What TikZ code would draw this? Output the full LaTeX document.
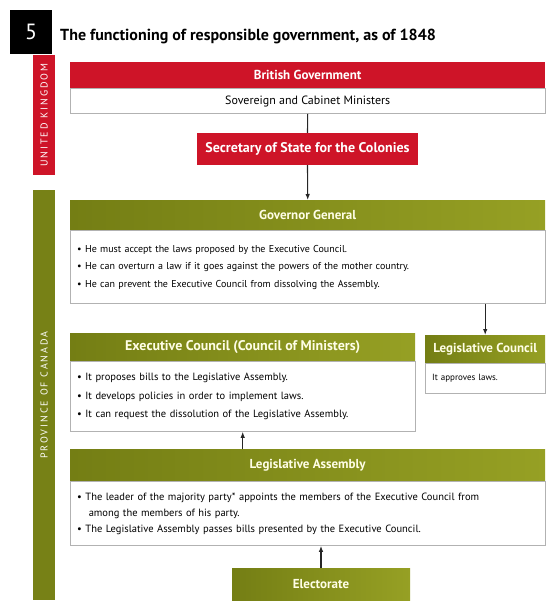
\documentclass[tikz,border=0pt]{standalone}
\usepackage{fontspec}
\setmainfont{PT Sans}
\usetikzlibrary{positioning,arrows.meta}
\definecolor{govred}{RGB}{206,20,40}
\definecolor{canolive}{RGB}{150,160,36}
\definecolor{darkolive}{RGB}{116,126,20}
\tikzset{
  redhead/.style={fill=govred, text=white, inner sep=0pt, font=\bfseries\fontsize{13}{15}\selectfont},
  greenhead/.style={left color=darkolive, right color=canolive, text=white!90!yellow, inner sep=0pt, font=\bfseries\fontsize{13}{15}\selectfont},
  bodybox/.style={fill=white, draw=black!30, inner xsep=7pt, inner ysep=0pt, align=left, font=\fontsize{10}{17.5}\selectfont},
  sidebar/.style={rotate=90, text=white, inner sep=0pt, font=\fontsize{10}{11}\selectfont\addfontfeature{LetterSpace=20}},
  arrowline/.style={draw=black!85, line width=1.1pt, -{Latex[length=6pt,width=4.5pt]}}
}
\begin{document}
\begin{tikzpicture}[x=1pt,y=-1pt]
  \useasboundingbox (0,0) rectangle (556,613);
  %%%%% START %%%%%
  % side bars
  \node[sidebar, fill=govred, minimum width=120, minimum height=22] (ukbar) at (44,115) {UNITED KINGDOM};
  \node[sidebar, fill=darkolive!90!canolive, minimum width=410, minimum height=22] (canbar) at (44,395) {PROVINCE OF CANADA};

  \node[fill=black, text=white, minimum width=42, minimum height=44, inner sep=0pt, anchor=north west,
        font=\fontsize{22}{24}\selectfont] (num) at (10,10) {5};
  \node[anchor=west, inner sep=0pt, font=\bfseries\fontsize{16}{18}\selectfont] (title) at (60,36)
        {The functioning of responsible government, as of 1848};

  % United Kingdom
  \node[redhead, minimum width=475, minimum height=26, anchor=north west] (britgov) at (70,62) {British Government};
  \node[bodybox, below=0pt of britgov, minimum width=475, minimum height=25, align=center,
        font=\fontsize{12}{14}\selectfont] (sov) {Sovereign and Cabinet Ministers};
  \node[redhead, minimum width=221, minimum height=32, font=\bfseries\fontsize{14}{16}\selectfont] (sec) at (307.5,149)
        {Secretary of State for the Colonies};

  % Province of Canada
  \node[greenhead, minimum width=475, minimum height=30, anchor=north west] (gghead) at (70,200) {Governor General};
  \node[bodybox, below=0pt of gghead, text width=461, minimum height=73] (ggbody)
        {\textbullet\ He must accept the laws proposed by the Executive Council.\\
         \textbullet\ He can overturn a law if it goes against the powers of the mother country.\\
         \textbullet\ He can prevent the Executive Council from dissolving the Assembly.};

  \node[greenhead, minimum width=345, minimum height=28, anchor=north west,
        font=\bfseries\fontsize{14}{16}\selectfont] (exechead) at (70,333) {Executive Council (Council of Ministers)};
  \node[bodybox, below=0pt of exechead, text width=331, minimum height=70, font=\fontsize{10.5}{18.5}\selectfont] (execbody)
        {\textbullet\ It proposes bills to the Legislative Assembly.\\
         \textbullet\ It develops policies in order to implement laws.\\
         \textbullet\ It can request the dissolution of the Legislative Assembly.};

  \node[greenhead, minimum width=120, minimum height=28, anchor=north west] (legchead) at (425,335) {Legislative Council};
  \node[bodybox, below=0pt of legchead, text width=106, minimum height=30, font=\fontsize{9}{11}\selectfont] (legcbody)
        {It approves laws.};

  \node[greenhead, minimum width=475, minimum height=32, anchor=north west] (lahead) at (70,449) {Legislative Assembly};
  \node[bodybox, below=0pt of lahead, text width=461, minimum height=64, font=\fontsize{10.5}{16}\selectfont] (labody)
        {\textbullet\ The leader of the majority party* appoints the members of the Executive Council from\\
         \hspace*{1.1em}among the members of his party.\\
         \textbullet\ The Legislative Assembly passes bills presented by the Executive Council.};

  \node[greenhead, minimum width=178, minimum height=32] (elect) at (321,584) {Electorate};

  % connectors
  \draw[draw=black!85, line width=1.1pt] (sov.south) -- (sec.north);
  \draw[arrowline] (sec.south) -- (gghead.north);
  \draw[arrowline] (ggbody.south -| legchead.north) -- (legchead.north);
  \draw[arrowline] (lahead.north -| execbody.south) -- (execbody.south);
  \draw[arrowline] (elect.north) -- (labody.south -| elect.north);
  %%%%% END %%%%%
\end{tikzpicture}
\end{document}
